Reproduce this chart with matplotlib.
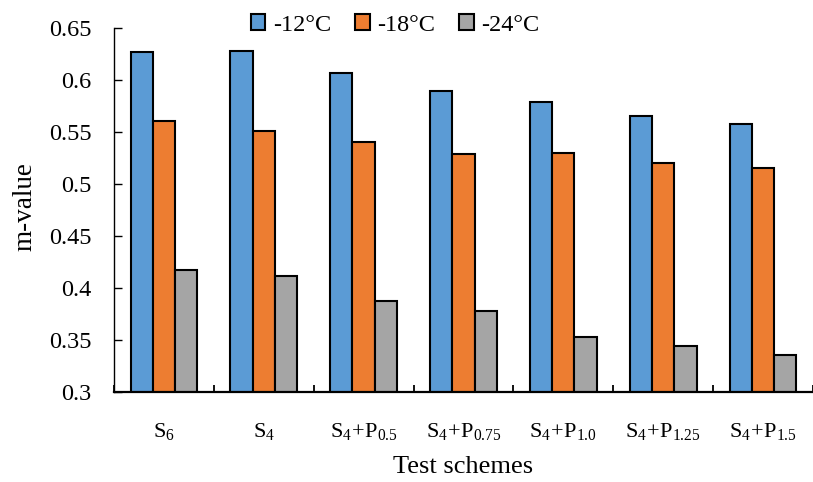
import numpy as np
import matplotlib
matplotlib.use('Agg')
import matplotlib.pyplot as plt

plt.rcParams['font.family'] = ['Liberation Serif', 'DejaVu Serif']
plt.rcParams['mathtext.fontset'] = 'custom'
plt.rcParams['mathtext.rm'] = 'Liberation Serif'
plt.rcParams['mathtext.it'] = 'Liberation Serif:italic'

# data
schemes = [r'$\mathrm{S_6}$', r'$\mathrm{S_4}$', r'$\mathrm{S_4\!+\!P_{0.5}}$',
           r'$\mathrm{S_4\!+\!P_{0.75}}$', r'$\mathrm{S_4\!+\!P_{1.0}}$',
           r'$\mathrm{S_4\!+\!P_{1.25}}$', r'$\mathrm{S_4\!+\!P_{1.5}}$']
m_12 = [0.627, 0.628, 0.607, 0.590, 0.579, 0.566, 0.558]
m_18 = [0.561, 0.551, 0.540, 0.529, 0.530, 0.520, 0.515]
m_24 = [0.417, 0.411, 0.387, 0.378, 0.353, 0.344, 0.335]
series_names = ['-12°C', '-18°C', '-24°C']
colors = ['#5B9BD5', '#ED7D31', '#A5A5A5']

fig = plt.figure(figsize=(8.13, 4.82), dpi=100)
ax = fig.add_axes([0.1402, 0.1874, 0.8598, 0.7539])

x = np.arange(len(schemes))
w = 0.223
bars = []
for i, (vals, name, c) in enumerate(zip([m_12, m_18, m_24], series_names, colors)):
    b = ax.bar(x + (i - 1) * w, vals, w, color=c, edgecolor='black',
               linewidth=1.5, label=name, zorder=2)
    bars.append(b)

ax.set_xlim(-0.5, len(schemes) - 0.5)
ax.set_ylim(0.3, 0.65)
yt = np.arange(0.3, 0.651, 0.05)
ax.set_yticks(yt)
ax.set_yticklabels(['%g' % round(v, 2) for v in yt])
ax.set_xticks(x)
ax.set_xticklabels(schemes)
ax.set_xticks(np.arange(-0.5, len(schemes), 1.0), minor=True)

ax.spines['top'].set_visible(False)
ax.spines['right'].set_visible(False)
ax.spines['left'].set_linewidth(1.0)
ax.spines['bottom'].set_linewidth(1.6)
ax.tick_params(axis='y', direction='in', length=6, width=1.0, pad=16, labelsize=17.5)
ax.tick_params(axis='x', which='major', length=0, pad=21, labelsize=16)
ax.tick_params(axis='x', which='minor', direction='in', length=5, width=1.3)

ax.set_ylabel('m-value', fontsize=19.5, va='center')
ax.yaxis.set_label_coords(-0.127, 0.51)
ax.set_xlabel('Test schemes', fontsize=19, va='center')
ax.xaxis.set_label_coords(0.5, -0.206)

ax.legend(handles=bars, loc='center', bbox_to_anchor=(395 / 813, 1 - 25 / 482),
          bbox_transform=fig.transFigure, ncol=3, frameon=False, fontsize=17.5,
          handlelength=0.6, handleheight=0.6, handletextpad=0.3,
          columnspacing=1.0, borderpad=0)

plt.savefig('out.png', dpi=100)
